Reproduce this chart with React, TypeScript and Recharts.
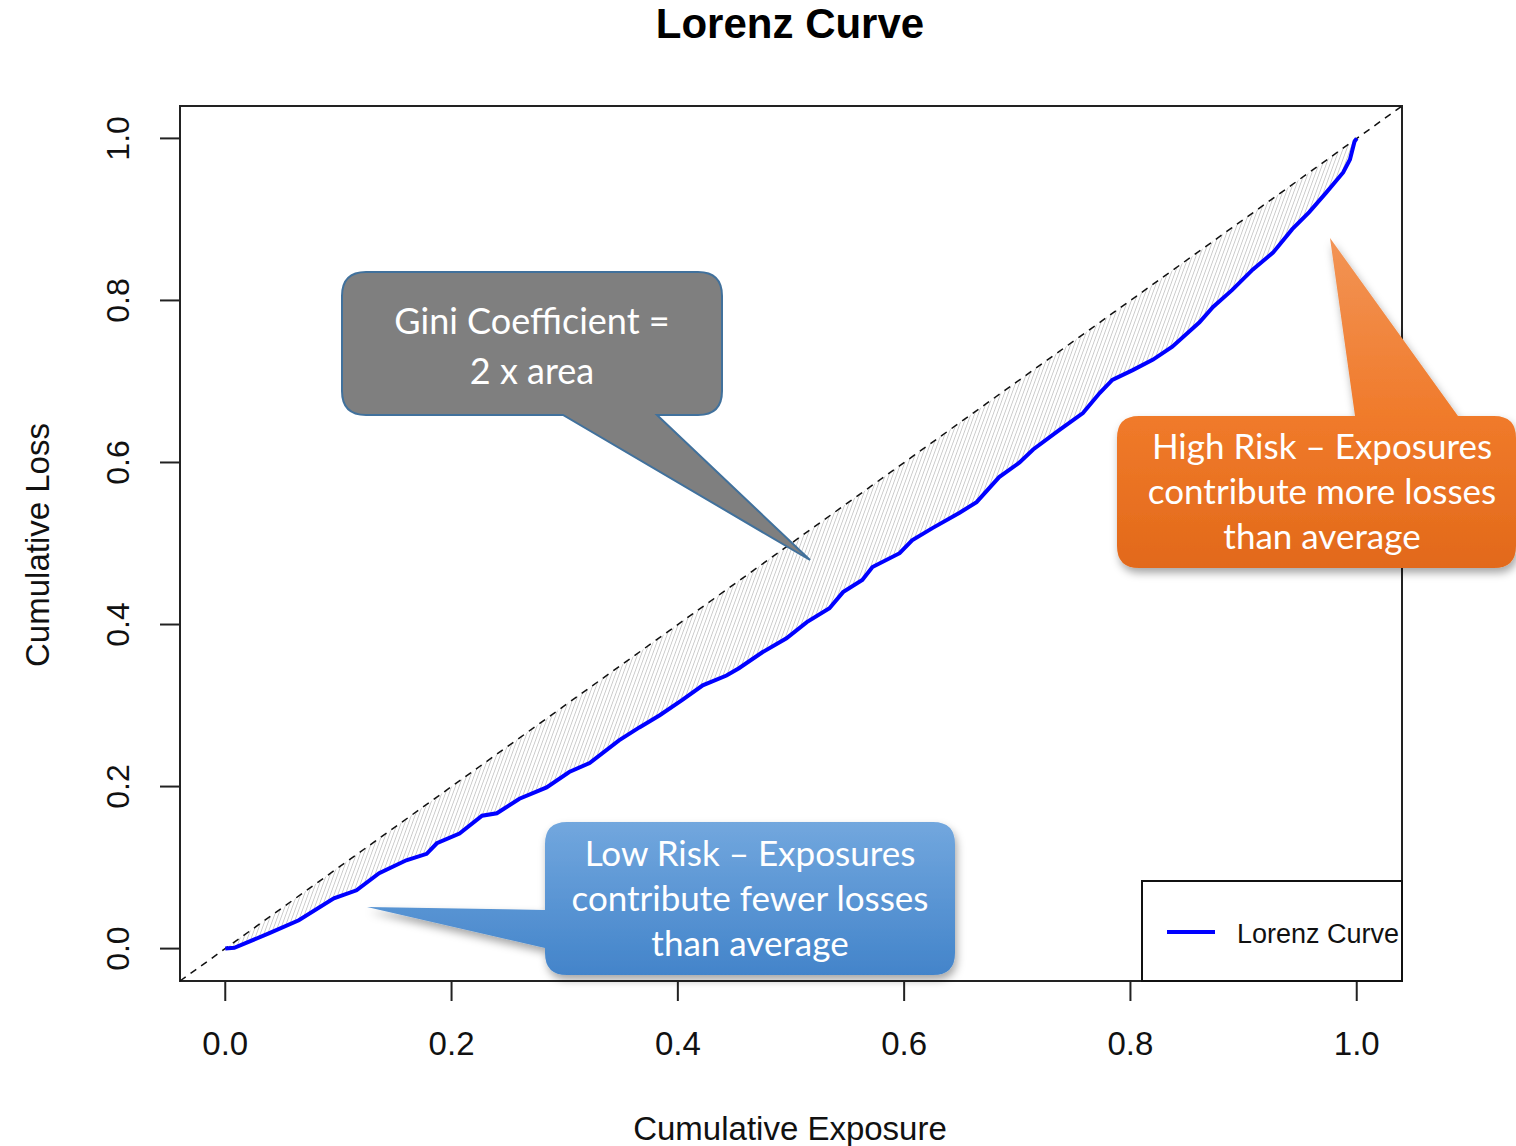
import { ComposedChart, Area, Line, XAxis, YAxis, ReferenceLine, ReferenceArea } from 'recharts';

// cumulative share of exposure (x) and of loss (y)
const exposure = [
  0, 0.008, 0.039, 0.065, 0.096, 0.116, 0.136, 0.16, 0.178, 0.187, 0.207, 0.227, 0.24, 0.26,
  0.284, 0.304, 0.322, 0.348, 0.366, 0.384, 0.404, 0.422, 0.443, 0.454, 0.475, 0.496, 0.514,
  0.534, 0.546, 0.563, 0.572, 0.596, 0.607, 0.625, 0.649, 0.664, 0.684, 0.702, 0.714, 0.737,
  0.758, 0.773, 0.784, 0.802, 0.82, 0.837, 0.861, 0.873, 0.89, 0.908, 0.926, 0.943, 0.958,
  0.973, 0.988, 0.994, 0.998, 1.0,
];
const loss = [
  0, 0.001, 0.019, 0.035, 0.062, 0.072, 0.093, 0.109, 0.117, 0.13, 0.142, 0.164, 0.167, 0.185,
  0.199, 0.218, 0.229, 0.257, 0.273, 0.288, 0.307, 0.325, 0.337, 0.346, 0.366, 0.383, 0.403,
  0.42, 0.44, 0.455, 0.471, 0.488, 0.504, 0.519, 0.538, 0.551, 0.582, 0.6, 0.616, 0.64,
  0.661, 0.686, 0.702, 0.714, 0.727, 0.743, 0.773, 0.792, 0.813, 0.838, 0.859, 0.888, 0.909,
  0.933, 0.958, 0.974, 0.996, 1.0,
];
const xTicks = [0, 0.2, 0.4, 0.6, 0.8, 1.0];
const yTicks = [0, 0.2, 0.4, 0.6, 0.8, 1.0];
const axisDomain = [-0.04, 1.04];

const data = exposure.map((x, i) => ({ exposure: x, loss: loss[i], band: [loss[i], x] }));

const rFont = '"Liberation Sans", Arial, sans-serif';
const calloutFont = 'Lato, "Open Sans", sans-serif';

function XTick({ x, y, payload }: any) {
  return (
    <text x={x} y={y + 40} dy="0.35em" textAnchor="middle" fontFamily={rFont} fontSize={33} fill="#111">
      {payload.value.toFixed(1)}
    </text>
  );
}

function YTick({ x, y, payload }: any) {
  const cx = x - 40;
  return (
    <text x={cx} y={y} dy="0.35em" textAnchor="middle" transform={`rotate(-90, ${cx}, ${y})`}
      fontFamily={rFont} fontSize={32} fill="#111">
      {payload.value.toFixed(1)}
    </text>
  );
}

function Callouts() {
  return (
    <svg width={1516} height={1146} style={{ position: 'absolute', left: 0, top: 0, pointerEvents: 'none' }}>
      <defs>
        <linearGradient id="orangeFill" x1="0" y1="0" x2="0" y2="1">
          <stop offset="0%" stopColor="#F29456" />
          <stop offset="55%" stopColor="#F07A2A" />
          <stop offset="100%" stopColor="#E2691A" />
        </linearGradient>
        <linearGradient id="blueFill" x1="0" y1="0" x2="0" y2="1">
          <stop offset="0%" stopColor="#72A7DE" />
          <stop offset="100%" stopColor="#4384CA" />
        </linearGradient>
        <filter id="shadow" x="-10%" y="-10%" width="130%" height="140%">
          <feDropShadow dx="2" dy="5" stdDeviation="4" floodColor="#000" floodOpacity="0.35" />
        </filter>
      </defs>

      {/* legend */}
      <rect x={1142} y={881} width={260} height={100} fill="#fff" stroke="#111" strokeWidth={2} />
      <line x1={1167} y1={932} x2={1215} y2={932} stroke="#0000FF" strokeWidth={4} />
      <text x={1237} y={943} fontFamily={rFont} fontSize={27} fill="#111">Lorenz Curve</text>

      {/* gini callout */}
      <path
        d="M 366 272 H 698 Q 722 272 722 296 V 391 Q 722 415 698 415 H 657 L 810 560 L 563 415 H 366 Q 342 415 342 391 V 296 Q 342 272 366 272 Z"
        fill="#7F7F7F" stroke="#41719C" strokeWidth={2}
      />
      <text x={532} y={334} textAnchor="middle" fontFamily={calloutFont} fontSize={36} fill="#fff">Gini Coefficient =</text>
      <text x={532} y={384} textAnchor="middle" fontFamily={calloutFont} fontSize={36} fill="#fff">2 x area</text>

      {/* high risk callout */}
      <path
        d="M 1139 416 H 1355 L 1330 238 L 1458 416 H 1494 Q 1516 416 1516 438 V 546 Q 1516 568 1494 568 H 1139 Q 1117 568 1117 546 V 438 Q 1117 416 1139 416 Z"
        fill="url(#orangeFill)" filter="url(#shadow)"
      />
      <text x={1322} y={459} textAnchor="middle" fontFamily={calloutFont} fontSize={35} fill="#fff">High Risk – Exposures</text>
      <text x={1322} y={504} textAnchor="middle" fontFamily={calloutFont} fontSize={35} fill="#fff">contribute more losses</text>
      <text x={1322} y={549} textAnchor="middle" fontFamily={calloutFont} fontSize={35} fill="#fff">than average</text>

      {/* low risk callout */}
      <path
        d="M 567 822 H 933 Q 955 822 955 844 V 953 Q 955 975 933 975 H 567 Q 545 975 545 953 V 948 L 367 907 L 545 910 V 844 Q 545 822 567 822 Z"
        fill="url(#blueFill)" filter="url(#shadow)"
      />
      <text x={750} y={866} textAnchor="middle" fontFamily={calloutFont} fontSize={35} fill="#fff">Low Risk – Exposures</text>
      <text x={750} y={911} textAnchor="middle" fontFamily={calloutFont} fontSize={35} fill="#fff">contribute fewer losses</text>
      <text x={750} y={956} textAnchor="middle" fontFamily={calloutFont} fontSize={35} fill="#fff">than average</text>
    </svg>
  );
}

export default function App() {
  return (
    <div style={{ position: 'absolute', left: 0, top: 0, width: 1516, height: 1146, background: '#fff', overflow: 'hidden' }}>
      <ComposedChart width={1516} height={1146} data={data} margin={{ top: 106, right: 114, bottom: 135, left: 120 }}>
        <defs>
          <pattern id="hatch" patternUnits="userSpaceOnUse" width={3.5} height={4} patternTransform="rotate(20)">
            <line x1={0} y1={0} x2={0} y2={4} stroke="#a2a2a2" strokeWidth={1} />
          </pattern>
        </defs>
        <XAxis
          dataKey="exposure"
          type="number"
          domain={axisDomain}
          ticks={xTicks}
          allowDataOverflow
          height={30}
          axisLine={false}
          tickLine={{ stroke: '#222', strokeWidth: 2 }}
          tickSize={20}
          tickMargin={2}
          tick={<XTick />}
        />
        <YAxis
          type="number"
          domain={axisDomain}
          ticks={yTicks}
          allowDataOverflow
          width={60}
          axisLine={false}
          tickLine={{ stroke: '#222', strokeWidth: 2 }}
          tickSize={20}
          tickMargin={2}
          tick={<YTick />}
        />
        <Area dataKey="band" type="linear" fill="url(#hatch)" fillOpacity={1} stroke="none" isAnimationActive={false} />
        <ReferenceLine
          segment={[{ x: -0.04, y: -0.04 }, { x: 1.04, y: 1.04 }]}
          stroke="#111"
          strokeWidth={1.5}
          strokeDasharray="7 6"
          ifOverflow="visible"
        />
        <Line dataKey="loss" type="linear" stroke="#0000FF" strokeWidth={4} dot={false} isAnimationActive={false} />
        <ReferenceArea x1={-0.04} x2={1.04} y1={-0.04} y2={1.04} fill="none" stroke="#222" strokeWidth={2} ifOverflow="visible" />
        <text x={790} y={38} textAnchor="middle" fontFamily={rFont} fontWeight="bold" fontSize={42} fill="#000">Lorenz Curve</text>
        <text x={790} y={1140} textAnchor="middle" fontFamily={rFont} fontSize={33} fill="#111">Cumulative Exposure</text>
        <text x={37} y={545} dy="0.35em" textAnchor="middle" transform="rotate(-90, 37, 545)" fontFamily={rFont} fontSize={33} fill="#111">Cumulative Loss</text>
      </ComposedChart>
      <Callouts />
    </div>
  );
}
